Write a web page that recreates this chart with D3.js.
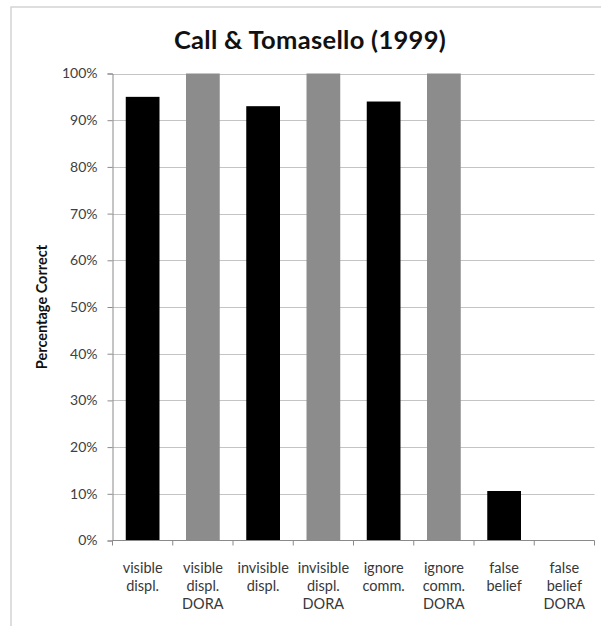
<!DOCTYPE html>
<html>
<head>
<meta charset="utf-8">
<script src="https://cdn.jsdelivr.net/npm/d3@7"></script>
<style>
  html, body { margin: 0; padding: 0; background: #fff; }
  svg { display: block; }
</style>
</head>
<body>
<svg id="chart" width="601" height="626"></svg>
<script>
const title = "Call & Tomasello (1999)";
const yTitle = "Percentage Correct";
const categories = [
  ["visible", "displ."],
  ["visible", "displ.", "DORA"],
  ["invisible", "displ."],
  ["invisible", "displ.", "DORA"],
  ["ignore", "comm."],
  ["ignore", "comm.", "DORA"],
  ["false", "belief"],
  ["false", "belief", "DORA"]
];
const values = [95, 100, 93, 100, 94, 100, 10.6, 0];
const groups = ["chimp", "dora", "chimp", "dora", "chimp", "dora", "chimp", "dora"];
const yTicks = [0, 10, 20, 30, 40, 50, 60, 70, 80, 90, 100];
const groupColors = { chimp: "#000000", dora: "#8c8c8c" };

(function () {
const svg = d3.select("#chart");
const font = "Lato, 'Liberation Sans', sans-serif";

// outer chart border (cropped at right/bottom)
svg.append("rect")
  .attr("x", 11).attr("y", 7).attr("width", 700).attr("height", 700)
  .attr("fill", "none").attr("stroke", "#d4d4d4").attr("stroke-width", 1.5);

const pL = 112.5, pR = 594.5, pT = 73.5, pB = 540.5;

const x = d3.scaleBand().domain(d3.range(categories.length)).range([pL, pR]).padding(0);
const y = d3.scaleLinear().domain([0, 100]).range([pB, pT]);

// gridlines
svg.append("g").selectAll("line").data(yTicks.filter(d => d > 0)).join("line")
  .attr("x1", pL).attr("x2", pR)
  .attr("y1", d => Math.round(y(d)) + 0.5).attr("y2", d => Math.round(y(d)) + 0.5)
  .attr("stroke", "#c4c4c4").attr("stroke-width", 1);

// bars
const barW = x.bandwidth() * 0.56;
svg.append("g").selectAll("rect").data(values).join("rect")
  .attr("x", (d, i) => x(i) + (x.bandwidth() - barW) / 2)
  .attr("width", barW)
  .attr("y", d => y(d))
  .attr("height", d => y(0) - y(d))
  .attr("fill", (d, i) => groupColors[groups[i]]);

// y axis
const yAxis = svg.append("g").attr("transform", `translate(${pL},0)`)
  .call(d3.axisLeft(y).tickValues(yTicks).tickFormat(d => d + "%").tickSize(5).tickPadding(10));
yAxis.select(".domain").attr("stroke", "#8a8a8a");
yAxis.selectAll(".tick line").attr("stroke", "#8a8a8a");
yAxis.selectAll(".tick text").attr("font-family", font).attr("font-size", 14).attr("fill", "#404040");

// x axis baseline + boundary ticks
const xg = svg.append("g");
xg.append("line").attr("x1", pL).attr("x2", pR)
  .attr("y1", y(0)).attr("y2", y(0)).attr("stroke", "#8a8a8a");
const bounds = d3.range(categories.length + 1).map(i => pL + i * x.step());
xg.selectAll("line.tk").data(bounds).join("line").attr("class", "tk")
  .attr("x1", d => d).attr("x2", d => d)
  .attr("y1", y(0)).attr("y2", y(0) + 5).attr("stroke", "#8a8a8a");

// x labels
const lbl = svg.append("g").selectAll("text").data(categories).join("text")
  .attr("text-anchor", "middle")
  .attr("font-family", font).attr("font-size", 14.5).attr("fill", "#383838");
lbl.each(function(lines, i) {
  d3.select(this).selectAll("tspan").data(lines).join("tspan")
    .attr("x", x(i) + x.bandwidth() / 2)
    .attr("y", (d, j) => 572.5 + j * 18.2)
    .text(d => d);
});

// title
svg.append("text").attr("x", 310).attr("y", 48.5).attr("text-anchor", "middle")
  .attr("font-family", font).attr("font-weight", "bold").attr("font-size", 25.5)
  .attr("letter-spacing", 0.3)
  .attr("fill", "#111").text(title);

// y title
svg.append("text")
  .attr("transform", `translate(47,${(pT + pB) / 2}) rotate(-90)`)
  .attr("text-anchor", "middle")
  .attr("font-family", font).attr("font-weight", "bold").attr("font-size", 14.5)
  .attr("fill", "#111").text(yTitle);
})();
</script>
</body>
</html>
